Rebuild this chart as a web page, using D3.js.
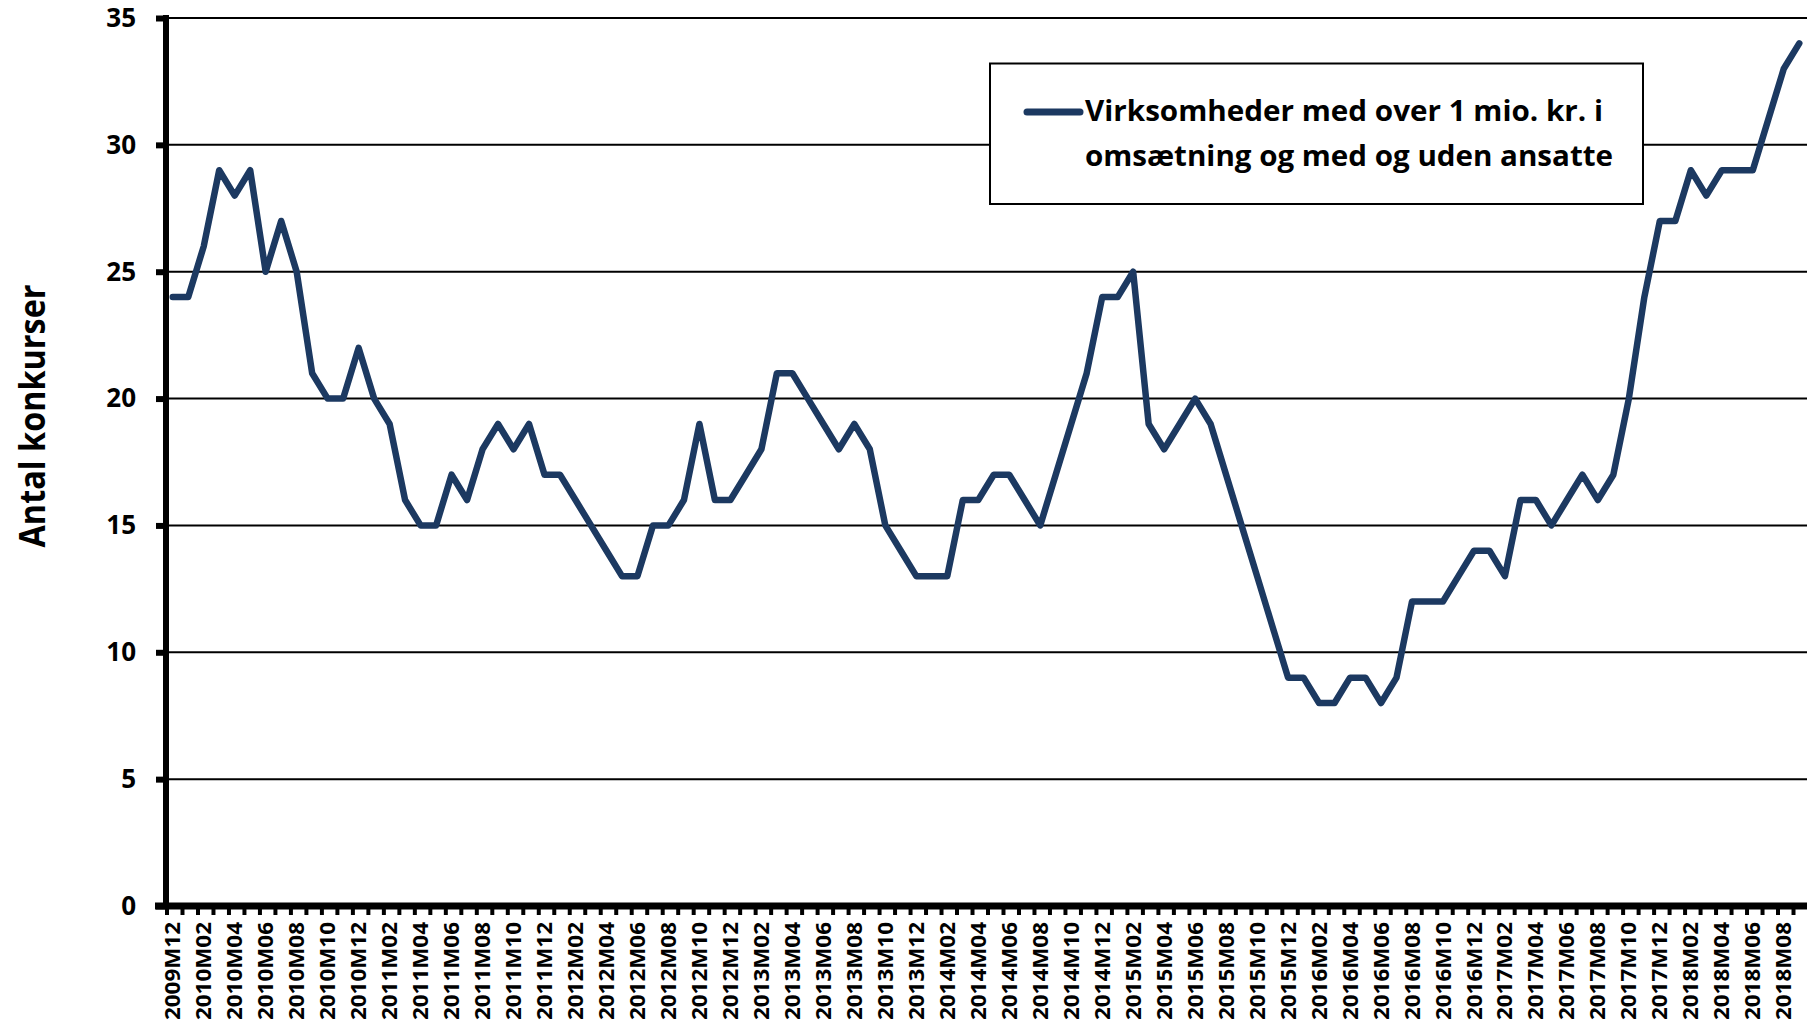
<!DOCTYPE html>
<html>
<head>
<meta charset="utf-8">
<script src="https://cdn.jsdelivr.net/npm/d3@7"></script>
<style>
  body { margin: 0; background: #fff; overflow: hidden; }
  text { font-family: 'Open Sans', sans-serif; font-weight: bold; fill: #000; }
</style>
</head>
<body>
<div id="container"></div>
<script>
// monthly categories, 2009M12 .. 2018M09
const months = [
  "2009M12",
  "2010M01","2010M02","2010M03","2010M04","2010M05","2010M06","2010M07","2010M08","2010M09","2010M10","2010M11","2010M12",
  "2011M01","2011M02","2011M03","2011M04","2011M05","2011M06","2011M07","2011M08","2011M09","2011M10","2011M11","2011M12",
  "2012M01","2012M02","2012M03","2012M04","2012M05","2012M06","2012M07","2012M08","2012M09","2012M10","2012M11","2012M12",
  "2013M01","2013M02","2013M03","2013M04","2013M05","2013M06","2013M07","2013M08","2013M09","2013M10","2013M11","2013M12",
  "2014M01","2014M02","2014M03","2014M04","2014M05","2014M06","2014M07","2014M08","2014M09","2014M10","2014M11","2014M12",
  "2015M01","2015M02","2015M03","2015M04","2015M05","2015M06","2015M07","2015M08","2015M09","2015M10","2015M11","2015M12",
  "2016M01","2016M02","2016M03","2016M04","2016M05","2016M06","2016M07","2016M08","2016M09","2016M10","2016M11","2016M12",
  "2017M01","2017M02","2017M03","2017M04","2017M05","2017M06","2017M07","2017M08","2017M09","2017M10","2017M11","2017M12",
  "2018M01","2018M02","2018M03","2018M04","2018M05","2018M06","2018M07","2018M08","2018M09"
];

const konkurser = [
  24,
  24, 26, 29, 28, 29, 25, 27, 25, 21, 20, 20, 22,
  20, 19, 16, 15, 15, 17, 16, 18, 19, 18, 19, 17,
  17, 16, 15, 14, 13, 13, 15, 15, 16, 19, 16, 16,
  17, 18, 21, 21, 20, 19, 18, 19, 18, 15, 14, 13,
  13, 13, 16, 16, 17, 17, 16, 15, 17, 19, 21, 24,
  24, 25, 19, 18, 19, 20, 19, 17, 15, 13, 11, 9,
  9, 8, 8, 9, 9, 8, 9, 12, 12, 12, 13, 14,
  14, 13, 16, 16, 15, 16, 17, 16, 17, 20, 24, 27,
  27, 29, 28, 29, 29, 29, 31, 33, 34
];

const yTicks = [0, 5, 10, 15, 20, 25, 30, 35];
const xLabels = months.filter((m, i) => i % 2 === 0);
const legendLines = ["Virksomheder med over 1 mio. kr. i", "omsætning og med og uden ansatte"];
const yTitle = "Antal konkurser";

const w = 1807;
const h = 1024;
const plotLeft = 165;
const plotRight = 1807;
const plotTop = 18;
const plotBottom = 906;
const lineColor = '#1c3961';

const viz = d3.select('#container').append('svg')
  .attr('width', w)
  .attr('height', h)
  .style('background', '#fff');

const xScale = d3.scaleBand().domain(months).range([plotLeft, plotRight]);
const yScale = d3.scaleLinear().domain([0, 35]).range([plotBottom, plotTop]);
const cx = (m) => xScale(m) + xScale.bandwidth() / 2;

// gridlines
viz.append('g')
  .selectAll('line')
  .data(yTicks.filter((t) => t > 0))
  .enter()
  .append('line')
  .attr('x1', plotLeft)
  .attr('x2', plotRight)
  .attr('y1', (d) => yScale(d))
  .attr('y2', (d) => yScale(d))
  .attr('stroke', '#000')
  .attr('stroke-width', 2);

// y axis
const yAxis = d3.axisLeft(yScale).tickValues(yTicks).tickSize(10).tickPadding(20);
const yAxisGroup = viz.append('g')
  .attr('transform', 'translate(' + (plotLeft + 1) + ',0)')
  .call(yAxis);
yAxisGroup.select('.domain').remove();
yAxisGroup.selectAll('.tick line').attr('stroke', '#000').attr('stroke-width', 6);
yAxisGroup.selectAll('.tick text').style('font-size', '26px');
yAxisGroup.append('line')
  .attr('x1', 0).attr('x2', 0)
  .attr('y1', plotTop - 3).attr('y2', plotBottom + 3)
  .attr('stroke', '#000')
  .attr('stroke-width', 6);

// x axis: ticks between categories, labels every second month
const boundaries = months.map((m) => xScale(m)).concat([plotRight]);
viz.append('g')
  .selectAll('line')
  .data(boundaries)
  .enter()
  .append('line')
  .attr('x1', (d) => d + 2)
  .attr('x2', (d) => d + 2)
  .attr('y1', plotBottom)
  .attr('y2', plotBottom + 9)
  .attr('stroke', '#000')
  .attr('stroke-width', 4);
viz.append('line')
  .attr('x1', plotLeft - 10)
  .attr('x2', plotRight)
  .attr('y1', plotBottom)
  .attr('y2', plotBottom)
  .attr('stroke', '#000')
  .attr('stroke-width', 7);

viz.append('g')
  .selectAll('text')
  .data(xLabels)
  .enter()
  .append('text')
  .attr('transform', (d) => 'translate(' + cx(d) + ',' + (plotBottom + 16) + ') rotate(-90)')
  .attr('text-anchor', 'end')
  .attr('dy', '0.36em')
  .attr('textLength', 98)
  .attr('lengthAdjust', 'spacingAndGlyphs')
  .style('font-size', '21px')
  .text((d) => d);

// y title
viz.append('text')
  .attr('transform', 'translate(45,416) rotate(-90)')
  .attr('text-anchor', 'middle')
  .attr('textLength', 263)
  .attr('lengthAdjust', 'spacingAndGlyphs')
  .style('font-size', '35px')
  .text(yTitle);

// series line
const lineMaker = d3.line()
  .x((d, i) => cx(months[i]))
  .y((d) => yScale(d));

viz.append('path')
  .datum(konkurser)
  .attr('d', lineMaker)
  .attr('fill', 'none')
  .attr('stroke', lineColor)
  .attr('stroke-width', 6.5)
  .attr('stroke-linejoin', 'round')
  .attr('stroke-linecap', 'round');

// legend
const legend = viz.append('g');
legend.append('rect')
  .attr('x', 990)
  .attr('y', 63.5)
  .attr('width', 653)
  .attr('height', 140.5)
  .attr('fill', '#fff')
  .attr('stroke', '#000')
  .attr('stroke-width', 2);
legend.append('line')
  .attr('x1', 1027).attr('x2', 1080)
  .attr('y1', 112).attr('y2', 112)
  .attr('stroke', lineColor)
  .attr('stroke-width', 7)
  .attr('stroke-linecap', 'round');
legend.selectAll('.lg')
  .data(legendLines)
  .enter()
  .append('text')
  .attr('class', 'lg')
  .attr('x', 1085)
  .attr('y', (d, i) => 121 + i * 45)
  .attr('textLength', (d, i) => i === 0 ? 518 : 528)
  .attr('lengthAdjust', 'spacingAndGlyphs')
  .style('font-size', '29px')
  .text((d) => d);
</script>
</body>
</html>
